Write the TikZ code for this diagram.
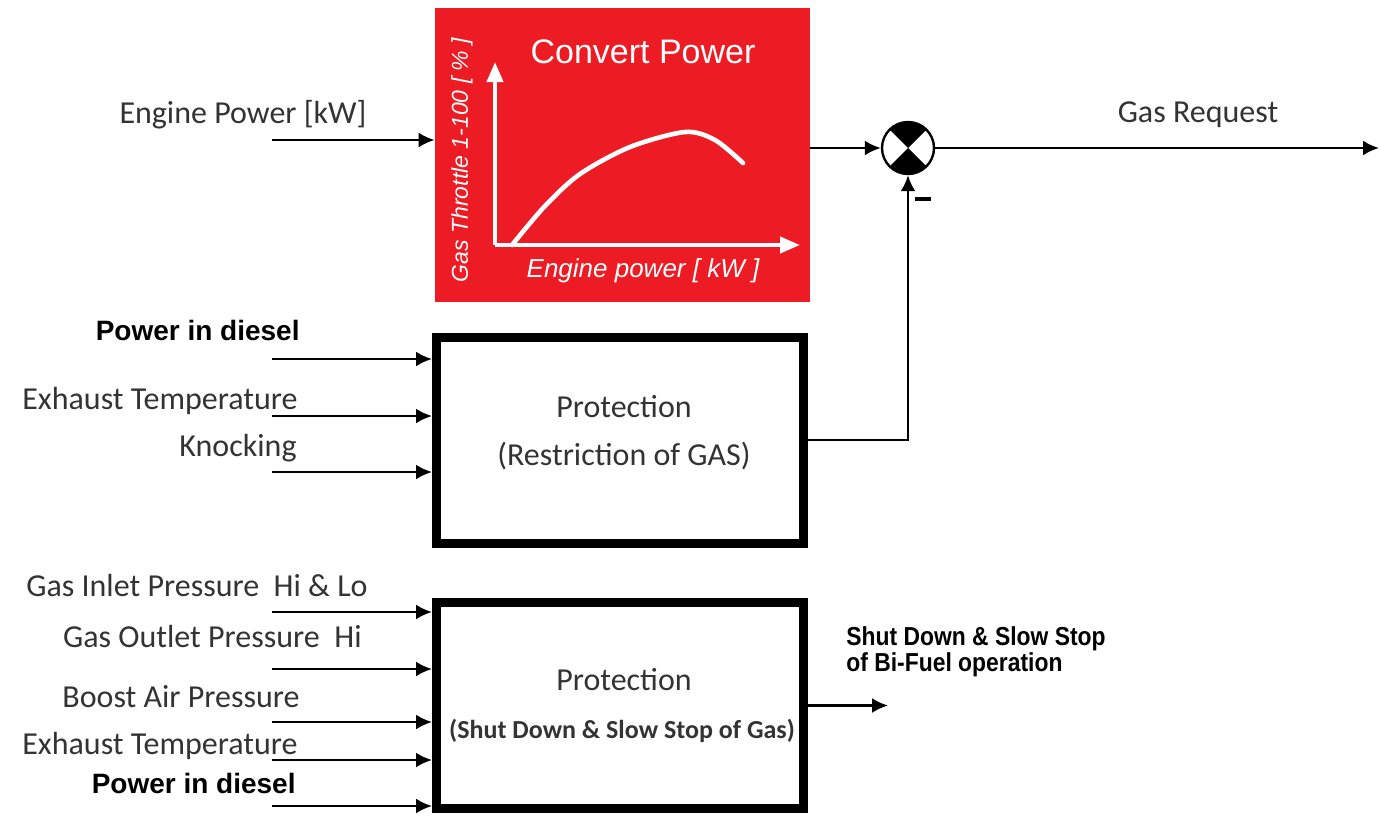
\documentclass[tikz,border=0pt]{standalone}
\usepackage{fontspec}
\setmainfont{Carlito}
\newfontfamily\arialfont{Liberation Sans}
\newfontfamily\narrowfont[FakeStretch=0.88]{Liberation Sans}
\usetikzlibrary{arrows.meta}
\definecolor{convred}{HTML}{ED1C24}
\definecolor{labelgray}{HTML}{333333}

\begin{document}
\begin{tikzpicture}[x=0.5pt,y=-0.5pt,
  sig/.style={line width=1.2pt,-{Latex[length=8pt,width=7.5pt]}},
  lbl/.style={font=\fontsize{16}{18}\selectfont,text=labelgray,inner sep=0pt},
  heavylbl/.style={font=\arialfont\bfseries\fontsize{14}{16}\selectfont,inner sep=0pt},
  block/.style={draw,line width=4.5pt,minimum width=183.5pt,minimum height=103pt,inner sep=0pt},
  axis/.style={white,line width=2pt,-{Triangle[length=10pt,width=8pt]}}]
  \useasboundingbox (0,0) rectangle (1381,815);

  % Red block: the power-to-throttle characteristic.
  \node[fill=convred,minimum width=187.5pt,minimum height=147pt,inner sep=0pt] (conv) at (622.5,155) {};
  \coordinate (orig) at (495,245);
  \draw[axis] (orig) -- (495,62);
  \draw[axis] (orig) -- (800,245);
  \draw[white,line width=2.3pt,line cap=round] plot[smooth] coordinates {(512,245) (545,206) (580,174) (630,147) (685,132) (715,140) (743,163)};
  \node[font=\arialfont\fontsize{17}{20}\selectfont,text=white,anchor=base,inner sep=0pt] (convtitle) at (643,63) {Convert Power};
  \node[font=\arialfont\itshape\fontsize{13}{15}\selectfont,text=white,anchor=base,inner sep=0pt] (xname) at (643,277) {Engine power [ kW ]};
  \node[font=\arialfont\itshape\fontsize{11.5}{13}\selectfont,text=white,rotate=90,inner sep=0pt] (yname) at (462,160) {Gas Throttle 1-100 [ \% ]};

  \coordinate (epin) at (272,140);
  \draw[sig] (epin) -- (epin -| conv.west);
  \node[lbl,anchor=base] (eplbl) at (243,123) {Engine Power [kW]};

  % Summing point: top and bottom quarters filled.
  \node[circle,draw,line width=1.2pt,minimum size=26pt,inner sep=0pt,fill=white] (sum) at (908,148) {};
  \fill (sum.center) -- ++(45:13pt) arc[start angle=45,end angle=135,radius=13pt] -- cycle;
  \fill (sum.center) -- ++(225:13pt) arc[start angle=225,end angle=315,radius=13pt] -- cycle;
  \draw[sig] (conv.east |- sum) -- (sum.west);
  \coordinate (gasout) at (1379,148);
  \draw[sig] (sum.east) -- (gasout);
  \node[lbl,anchor=base] (gasreq) at (1198,122) {Gas Request};

  % Restriction block, fed back with negative sign.
  \node[block] (restrict) at (620,440) {};
  \node[lbl,anchor=base] (restrict1) at (624,417) {Protection};
  \node[lbl,anchor=base] (restrict2) at (624,465) {(Restriction of GAS)};
  \draw[sig] (restrict.east) -| (sum.south);
  \node[inner sep=0pt] (minus) at (923,199) {\rule{8pt}{1.8pt}};

  \foreach \i/\y in {1/359,2/416,3/472} {
    \coordinate (ra\i) at (272,\y);
    \draw[sig] (ra\i) -- (ra\i -| restrict.west);
  }
  \node[heavylbl,anchor=base east] (ralbl1) at (300,340) {Power in diesel};
  \node[lbl,anchor=base east] (ralbl2) at (298,409) {Exhaust Temperature};
  \node[lbl,anchor=base east] (ralbl3) at (297,456) {Knocking};

  % Shut-down block.
  \node[block] (shutdown) at (620,705.5) {};
  \node[lbl,anchor=base] (shutdown1) at (624,690) {Protection};
  \node[lbl,anchor=base,font=\bfseries\fontsize{13}{15}\selectfont] (shutdown2) at (622,738) {(Shut Down \& Slow Stop of Gas)};

  \foreach \i/\y in {1/612,2/669,3/722,4/760,5/806} {
    \coordinate (sa\i) at (272,\y);
    \draw[sig] (sa\i) -- (sa\i -| shutdown.west);
  }
  \foreach \i/\x/\y/\name in {1/368/596/{Gas Inlet Pressure\ \ Hi \& Lo},2/362/647/{Gas Outlet Pressure\ \ Hi},3/300/707/{Boost Air Pressure},4/298/754/{Exhaust Temperature}} {
    \node[lbl,anchor=base east] (salbl\i) at (\x,\y) {\name};
  }
  \node[heavylbl,anchor=base east] (salbl5) at (296,793) {Power in diesel};

  \coordinate (sdout) at (888,705.5);
  \draw[sig] (shutdown.east) -- (sdout);
  \node[font=\narrowfont\bfseries\fontsize{13}{15}\selectfont,anchor=base west,inner sep=0pt] (sdlbl1) at (846,645) {Shut Down \& Slow Stop};
  \node[font=\narrowfont\bfseries\fontsize{13}{15}\selectfont,anchor=base west,inner sep=0pt] (sdlbl2) at (846,671) {of Bi-Fuel operation};
\end{tikzpicture}
\end{document}
